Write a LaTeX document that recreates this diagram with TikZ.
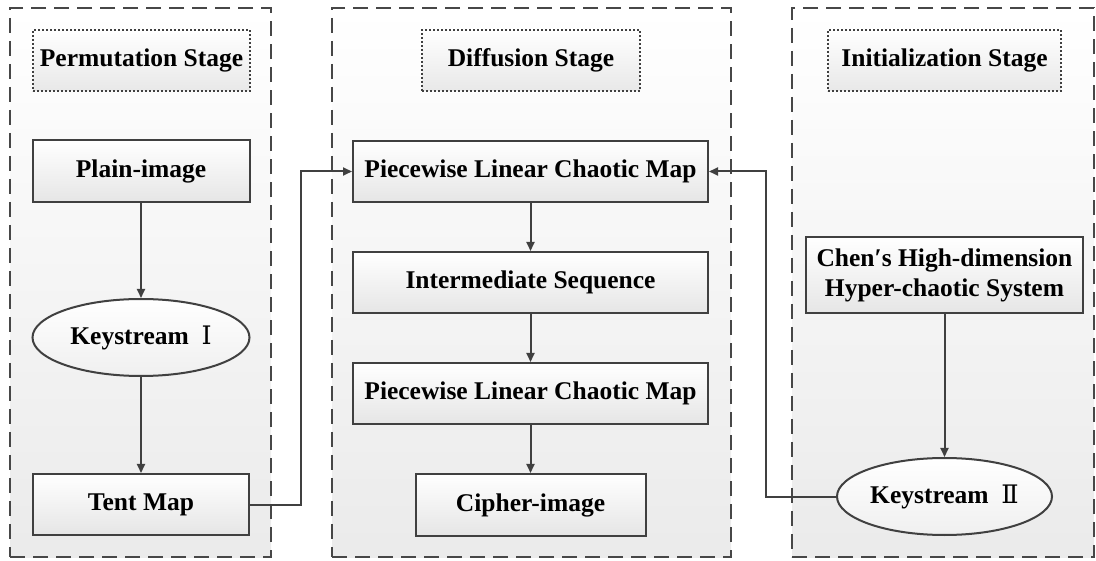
\documentclass[tikz,border=0pt]{standalone}
\usepackage{fontspec}
\setmainfont{Liberation Serif}
\newfontfamily\numfont{DejaVu Serif}
\usetikzlibrary{shapes.geometric,arrows.meta}
\begin{document}
\begin{tikzpicture}[x=1pt,y=-1pt,
  panel/.style={draw=black!72,line width=2.4pt,dash pattern=on 15pt off 8pt,
    top color=white,bottom color=black!8,minimum width=#1,minimum height=549pt,inner sep=0pt},
  title/.style={draw=black!75,line width=1.6pt,dash pattern=on 1.6pt off 2.4pt,
    top color=white,bottom color=black!9,minimum height=61pt,minimum width=#1,inner sep=0pt,
    font=\fontsize{25.5pt}{30pt}\selectfont\bfseries},
  box/.style={draw=black!75,line width=2pt,top color=white,bottom color=black!10,
    minimum height=62pt,minimum width=#1,inner sep=0pt,align=center,
    font=\fontsize{25.5pt}{30pt}\selectfont\bfseries},
  oval/.style={ellipse,draw=black!75,line width=2pt,top color=white,bottom color=black!6,
    minimum width=#1,minimum height=77pt,inner sep=0pt,
    font=\fontsize{25.5pt}{30pt}\selectfont\bfseries},
  conn/.style={draw=black!75,line width=2pt,-{Triangle[length=9pt,width=8pt]}}
]
\useasboundingbox (0,0) rectangle (1096,561);
% panels
\node[panel=261pt] (p1) at (140.5,282.5) {};
\node[panel=399pt] (p2) at (531.5,282.5) {};
\node[panel=302pt] (p3) at (943,282.5) {};
% titles
\node[title=217pt] (t1) at (141.5,60.5) {Permutation Stage};
\node[title=218pt] (t2) at (531,60.5) {Diffusion Stage};
\node[title=233pt] (t3) at (944.5,60.5) {Initialization Stage};
% left column
\node[box=217pt] (plain) at (141,171.5) {Plain-image};
\node[oval=217pt] (ks1) at (141,337.5) {Keystream\ \ {\mdseries\numfont Ⅰ}};
\node[box=216pt,minimum height=61pt] (tent) at (141,504.5) {Tent Map};
% middle column
\node[box=355pt,minimum height=61pt] (plcm1) at (530.5,171.5) {Piecewise Linear Chaotic Map};
\node[box=355pt,minimum height=61pt] (inter) at (530.5,282.5) {Intermediate Sequence};
\node[box=355pt,minimum height=61pt] (plcm2) at (530.5,393.5) {Piecewise Linear Chaotic Map};
\node[box=230pt] (cipher) at (530.5,505) {Cipher-image};
% right column
\node[box=277pt,minimum height=76pt] (chen) at (944.5,275) {Chen′s High-dimension\\Hyper-chaotic System};
\node[oval=215pt] (ks2) at (944.5,496.5) {Keystream\ \ {\mdseries\numfont Ⅱ}};
% coordinates for bends
\coordinate (b1) at (301,504.5);
\coordinate (b2) at (301,171.5);
\coordinate (b3) at (766,496.5);
\coordinate (b4) at (766,171.5);
% connectors
\draw[conn] (plain) -- (ks1);
\draw[conn] (ks1) -- (tent);
\draw[conn] (plcm1) -- (inter);
\draw[conn] (inter) -- (plcm2);
\draw[conn] (plcm2) -- (cipher);
\draw[conn] (chen) -- (ks2);
\draw[conn] (tent.east) -- (b1) -- (b2) -- (plcm1.west);
\draw[conn] (ks2.west) -- (b3) -- (b4) -- (plcm1.east);
\end{tikzpicture}
\end{document}
